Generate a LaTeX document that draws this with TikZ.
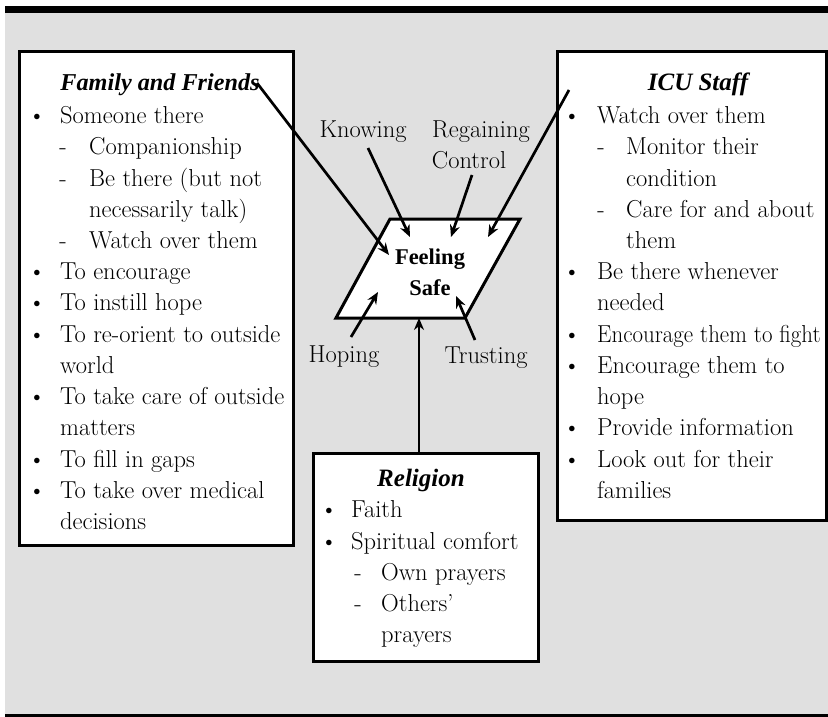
\documentclass[tikz,border=0pt]{standalone}
\usepackage{fontspec}
\newfontfamily\headfont{Liberation Serif}
\usetikzlibrary{arrows.meta}
\definecolor{panel}{HTML}{E0E0E0}
\tikzset{
  txt/.style={anchor=base west, inner sep=0pt, font=\fontsize{24.5}{30}\selectfont},
  sym/.style={anchor=base, inner sep=0pt, font=\fontsize{24.5}{30}\selectfont},
  head/.style={anchor=base, inner sep=0pt, font=\headfont\fontsize{25}{30}\selectfont\bfseries\itshape},
  lbl/.style={anchor=base, inner sep=0pt, font=\fontsize{24.5}{30}\selectfont},
  frame/.style={draw=black, line width=3pt, fill=white},
  link/.style={line width=2.7pt, -{Stealth[length=12pt,width=10pt]}},
}
\begin{document}
\begin{tikzpicture}[x=1pt,y=-1pt]
\useasboundingbox (0,0) rectangle (828,717);
% background panel and rules
\fill[panel] (5,13) rectangle (828,714);
\fill[black] (5,6) rectangle (828,13);
\fill[black] (5,714) rectangle (828,717);

% boxes
\draw[frame] (19,52) rectangle (293,545);
\draw[frame] (557,52) rectangle (826,520);
\draw[frame] (313,453) rectangle (538,661);

% central parallelogram
\coordinate (ptl) at (390,219);
\coordinate (ptr) at (520,219);
\coordinate (pbr) at (465,318);
\coordinate (pbl) at (336,318);
\draw[frame] (ptl) -- (ptr) -- (pbr) -- (pbl) -- cycle;
\node[align=center, inner sep=0pt, font=\headfont\fontsize{22.5}{31}\selectfont\bfseries] (fs) at (430,272) {Feeling\\Safe};

% left box
\node[head, font=\headfont\fontsize{24.2}{30}\selectfont\bfseries\itshape] (ffh) at (160,91) {Family and Friends};
\node[sym] (b1) at (37,123) {\textbullet};  \node[txt] (l1) at (60,123) {Someone there};
\node[sym] (d1) at (63,154) {-};            \node[txt] (l2) at (89,154) {Companionship};
\node[sym] (d2) at (63,186) {-};            \node[txt] (l3) at (89,186) {Be there (but not};
                                            \node[txt] (l4) at (89,217) {necessarily talk)};
\node[sym] (d3) at (63,248) {-};            \node[txt] (l5) at (89,248) {Watch over them};
\node[sym] (b2) at (37,279) {\textbullet};  \node[txt] (l6) at (60,279) {To encourage};
\node[sym] (b3) at (37,310) {\textbullet};  \node[txt] (l7) at (60,310) {To instill hope};
\node[sym] (b4) at (37,342) {\textbullet};  \node[txt] (l8) at (60,342) {To re-orient to outside};
                                            \node[txt] (l9) at (60,373) {world};
\node[sym] (b5) at (37,404) {\textbullet};  \node[txt] (l10) at (60,404) {To take care of outside};
                                            \node[txt] (l11) at (60,435) {matters};
\node[sym] (b6) at (37,467) {\textbullet};  \node[txt] (l12) at (60,467) {To fill in gaps};
\node[sym] (b7) at (37,498) {\textbullet};  \node[txt] (l13) at (60,498) {To take over medical};
                                            \node[txt] (l14) at (60,529) {decisions};

% right box
\node[head] (icuh) at (698,91) {ICU Staff};
\node[sym] (rb1) at (572,123) {\textbullet}; \node[txt] (r1) at (597,123) {Watch over them};
\node[sym] (rd1) at (601,154) {-};           \node[txt] (r2) at (626,154) {Monitor their};
                                             \node[txt] (r3) at (626,186) {condition};
\node[sym] (rd2) at (601,217) {-};           \node[txt] (r4) at (626,217) {Care for and about};
                                             \node[txt] (r5) at (626,248) {them};
\node[sym] (rb2) at (572,279) {\textbullet}; \node[txt] (r6) at (597,279) {Be there whenever};
                                             \node[txt] (r7) at (597,310) {needed};
\node[sym] (rb3) at (572,342) {\textbullet}; \node[txt] (r8) at (597,342) {\scalebox{0.935}[1]{Encourage them to fight}};
\node[sym] (rb4) at (572,373) {\textbullet}; \node[txt] (r9) at (597,373) {Encourage them to};
                                             \node[txt] (r10) at (597,404) {hope};
\node[sym] (rb5) at (572,435) {\textbullet}; \node[txt] (r11) at (597,435) {Provide information};
\node[sym] (rb6) at (572,467) {\textbullet}; \node[txt] (r12) at (597,467) {Look out for their};
                                             \node[txt] (r13) at (597,498) {families};

% religion box
\node[head] (relh) at (421,486) {Religion};
\node[sym] (gb1) at (329,517) {\textbullet}; \node[txt] (g1) at (351,517) {Faith};
\node[sym] (gb2) at (329,549) {\textbullet}; \node[txt] (g2) at (351,549) {Spiritual comfort};
\node[sym] (gd1) at (358,580) {-};           \node[txt] (g3) at (381,580) {Own prayers};
\node[sym] (gd2) at (358,611) {-};           \node[txt] (g4) at (381,611) {Others'};
                                             \node[txt] (g5) at (381,642) {prayers};

% labels around the centre
\node[lbl] (kn) at (363,137) {Knowing};
\node[lbl] (rg) at (481,137) {Regaining};
\node[lbl] (ct) at (469,168) {Control};
\node[lbl] (hp) at (344,362) {Hoping};
\node[lbl] (tr) at (486,363) {Trusting};

% arrow ends
\coordinate (sff) at (257,83);
\coordinate (skn) at (368,148);
\coordinate (sct) at (472,175);
\coordinate (sicu) at (569,90);
\coordinate (shp) at (351,337);
\coordinate (str) at (475,340);
\coordinate (srel) at (419,453);
\coordinate (tff) at (389,255);
\coordinate (tkn) at (410,237);
\coordinate (tct) at (451,237);
\coordinate (ticu) at (488,237);
\coordinate (thp) at (378,292);
\coordinate (ttr) at (456,296);
\coordinate (trel) at (419,318);

% connectors
\draw[link] (sff) -- (tff);
\draw[link] (skn) -- (tkn);
\draw[link] (sct) -- (tct);
\draw[link] (sicu) -- (ticu);
\draw[link] (shp) -- (thp);
\draw[link] (str) -- (ttr);
\draw[link] (srel) -- (trel);
\end{tikzpicture}
\end{document}
